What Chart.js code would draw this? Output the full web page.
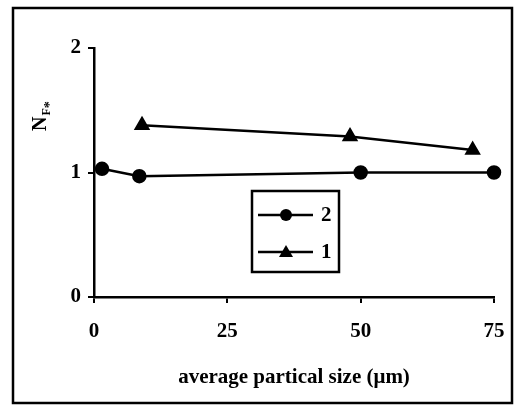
<!DOCTYPE html>
<html lang="en">
<head>
    <meta charset="UTF-8">
    <title>N_F* vs particle size</title>
    <script src="https://cdn.jsdelivr.net/npm/chart.js"></script>
    <style>
        body, html {
            margin: 0;
            padding: 0;
            background: #ffffff;
        }
        .wrap {
            position: relative;
            width: 514px;
            height: 405px;
        }
    </style>
</head>
<body>
    <div class="wrap">
        <canvas id="sizeChart" width="514" height="405"></canvas>
    </div>

    <script>
    // data
    const labels = ['2', '1'];
    const sizeS2 = [1.5, 8.5, 50, 75];
    const nfS2 = [1.03, 0.97, 1.0, 1.0];
    const sizeS1 = [9, 48, 71];
    const nfS1 = [1.38, 1.29, 1.18];
    const xTicks = [0, 25, 50, 75];
    const yTicks = [0, 1, 2];

    const serif = "'Liberation Serif', 'Times New Roman', serif";

    function pts(xs, ys) {
        return xs.map((x, i) => ({ x: x, y: ys[i] }));
    }

    // frame, y title with subscripts and boxed legend
    const extras = {
        id: 'extras',
        afterDraw(chart) {
            const ctx = chart.ctx;
            ctx.save();
            ctx.strokeStyle = '#000';
            ctx.lineWidth = 2.5;
            ctx.strokeRect(13, 8, 499, 395);

            // y axis title N_F*
            ctx.save();
            ctx.translate(39, 131);
            ctx.rotate(-Math.PI / 2);
            ctx.fillStyle = '#000';
            ctx.textAlign = 'left';
            ctx.textBaseline = 'alphabetic';
            ctx.font = 'bold 20px ' + serif;
            ctx.fillText('N', 0, 7);
            const nw = ctx.measureText('N').width;
            ctx.font = 'bold 12px ' + serif;
            ctx.fillText('F', nw + 1, 11);
            const fw = ctx.measureText('F').width;
            ctx.font = 'bold 14px ' + serif;
            ctx.fillText('*', nw + fw + 1, 15);
            ctx.restore();

            // legend box
            const bx = 252, by = 191, bw = 87, bh = 81;
            ctx.lineWidth = 2.5;
            ctx.strokeRect(bx, by, bw, bh);
            chart.data.datasets.forEach((ds, i) => {
                const y = 215 + i * 37;
                ctx.lineWidth = 2.5;
                ctx.beginPath();
                ctx.moveTo(258, y);
                ctx.lineTo(313, y);
                ctx.stroke();
                ctx.fillStyle = '#000';
                ctx.beginPath();
                if (ds.pointStyle === 'triangle') {
                    ctx.moveTo(286, y - 7);
                    ctx.lineTo(293, y + 5);
                    ctx.lineTo(279, y + 5);
                    ctx.closePath();
                } else {
                    ctx.arc(286, y, 6, 0, Math.PI * 2);
                }
                ctx.fill();
                ctx.font = 'bold 21px ' + serif;
                ctx.textAlign = 'left';
                ctx.textBaseline = 'middle';
                ctx.fillText(ds.label, 321, y + 1);
            });
            ctx.restore();
        }
    };

    const ctx = document.getElementById('sizeChart').getContext('2d');
    new Chart(ctx, {
        type: 'line',
        data: {
            datasets: [
                {
                    label: labels[0],
                    data: pts(sizeS2, nfS2),
                    borderColor: '#000',
                    backgroundColor: '#000',
                    borderWidth: 2.5,
                    pointStyle: 'circle',
                    pointRadius: 6,
                    pointHoverRadius: 6,
                    clip: false
                },
                {
                    label: labels[1],
                    data: pts(sizeS1, nfS1),
                    borderColor: '#000',
                    backgroundColor: '#000',
                    borderWidth: 2.5,
                    pointStyle: 'triangle',
                    pointRadius: 7,
                    pointHoverRadius: 7,
                    clip: false
                }
            ]
        },
        options: {
            responsive: false,
            animation: false,
            layout: { padding: { left: 0, top: 48, right: 20, bottom: 0 } },
            plugins: {
                legend: { display: false },
                tooltip: { enabled: false }
            },
            scales: {
                x: {
                    type: 'linear',
                    min: 0,
                    max: 75,
                    afterBuildTicks: s => { s.ticks = xTicks.map(v => ({ value: v })); },
                    afterFit: s => { s.height = 108; s.paddingLeft = 0; s.paddingRight = 0; },
                    border: { color: '#000', width: 2.5 },
                    grid: { drawOnChartArea: false, color: '#000', lineWidth: 2, tickLength: 6 },
                    ticks: { color: '#000', padding: 16, font: { family: serif, size: 21, weight: 'bold' } },
                    title: {
                        display: true,
                        text: 'average partical size (\u03bcm)',
                        color: '#000',
                        padding: { top: 0, bottom: 15 },
                        font: { family: serif, size: 21, weight: 'bold' }
                    }
                },
                y: {
                    min: 0,
                    max: 2,
                    afterBuildTicks: s => { s.ticks = yTicks.map(v => ({ value: v })); },
                    afterFit: s => { s.width = 94; },
                    border: { color: '#000', width: 2.5 },
                    grid: { drawOnChartArea: false, color: '#000', lineWidth: 2, tickLength: 6 },
                    ticks: { color: '#000', padding: 7, font: { family: serif, size: 21, weight: 'bold' } }
                }
            }
        },
        plugins: [extras]
    });
    </script>
</body>
</html>
